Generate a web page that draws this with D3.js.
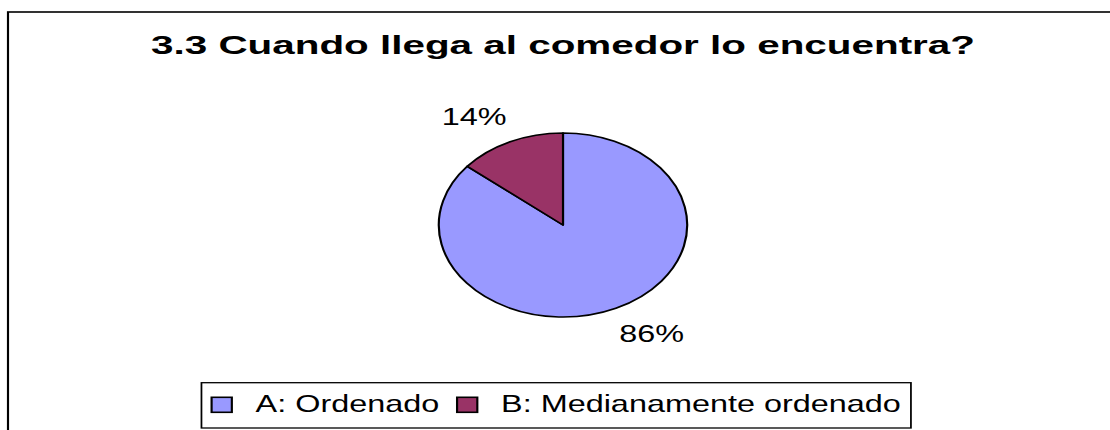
<!DOCTYPE html>
<html>
<head>
<meta charset="utf-8">
<script src="https://cdn.jsdelivr.net/npm/d3@7"></script>
<style>
  html, body { margin: 0; padding: 0; background: #fff; }
  svg { display: block; }
  text { font-family: "Liberation Sans", Arial, sans-serif; fill: #000; }
</style>
</head>
<body>
<svg id="chart" width="1110" height="430"></svg>
<script>
// ---- data ----
const title = "3.3 Cuando llega al comedor lo encuentra?";
const categories = ["A: Ordenado", "B: Medianamente ordenado"];
const values = [86, 14];
const colors = ["#9999FF", "#993366"];
const valueLabels = ["86%", "14%"];

// ---- layout (the picture is stretched horizontally) ----
const W = 1110, H = 430;
const SX = 1.35;
const svg = d3.select("#chart");
const g = svg.append("g").attr("transform", `scale(${SX},1)`);

// outer chart border (extends past right / bottom edges)
g.append("rect")
  .attr("x", 8 / SX).attr("y", 12)
  .attr("width", W).attr("height", H)
  .attr("fill", "#fff").attr("stroke", "#000").attr("stroke-width", 1.6);

// title
g.append("text")
  .attr("x", 563 / SX).attr("y", 54)
  .attr("text-anchor", "middle")
  .attr("font-size", 26).attr("font-weight", "bold")
  .attr("textLength", 824 / SX)
  .attr("lengthAdjust", "spacingAndGlyphs")
  .text(title);

// pie
const cx = 563 / SX, cy = 225, r = 92;
const pie = d3.pie().sort(null).value(d => d);
const arcs = pie(values);
const arc = d3.arc().innerRadius(0).outerRadius(r);
const pg = g.append("g").attr("transform", `translate(${cx},${cy})`);
pg.selectAll("path.slice").data(arcs).join("path")
  .attr("class", "slice")
  .attr("d", arc)
  .attr("fill", (d, i) => colors[i])
  .attr("stroke", "#000").attr("stroke-width", 1.6)
  .attr("stroke-linejoin", "round");

// value labels, placed outside the slices
const R1 = 98, R2 = 110;
pg.selectAll("text.lab").data(arcs).join("text")
  .attr("class", "lab")
  .each(function (d, i) {
    const a = (d.startAngle + d.endAngle) / 2;
    const s = Math.sin(a), c = Math.cos(a);
    const t = d3.select(this);
    t.attr("x", R1 * s).attr("y", -R2 * c)
     .attr("text-anchor", s >= 0 ? "start" : "end")
     .attr("dy", c < 0 ? "0.72em" : "0")
     .attr("font-size", 24)
     .text(valueLabels[i]);
  });

// legend
const lg = g.append("g");
const fs = 24, sq = 15, gapSqText = 17.6, gapItems = 13.2, pad = 7.5;
let xpos = 0;
categories.forEach((cat, i) => {
  const it = lg.append("g");
  it.append("rect")
    .attr("x", xpos).attr("y", -sq + 0.3)
    .attr("width", sq).attr("height", sq)
    .attr("fill", colors[i]).attr("stroke", "#000").attr("stroke-width", 1.6);
  const t = it.append("text")
    .attr("x", xpos + sq + gapSqText).attr("y", 0)
    .attr("font-size", fs).text(cat);
  const w = t.node().getComputedTextLength();
  xpos += sq + gapSqText + w + gapItems;
});
const totalW = xpos - gapItems;
const legCx = 412, baseY = 412;
lg.attr("transform", `translate(${legCx - totalW / 2},${baseY})`);
lg.insert("rect", ":first-child")
  .attr("x", -pad).attr("y", 382.7 - baseY)
  .attr("width", totalW + 2 * pad).attr("height", 428 - 382.7)
  .attr("fill", "#fff").attr("stroke", "#000").attr("stroke-width", 1.3);
</script>
</body>
</html>
